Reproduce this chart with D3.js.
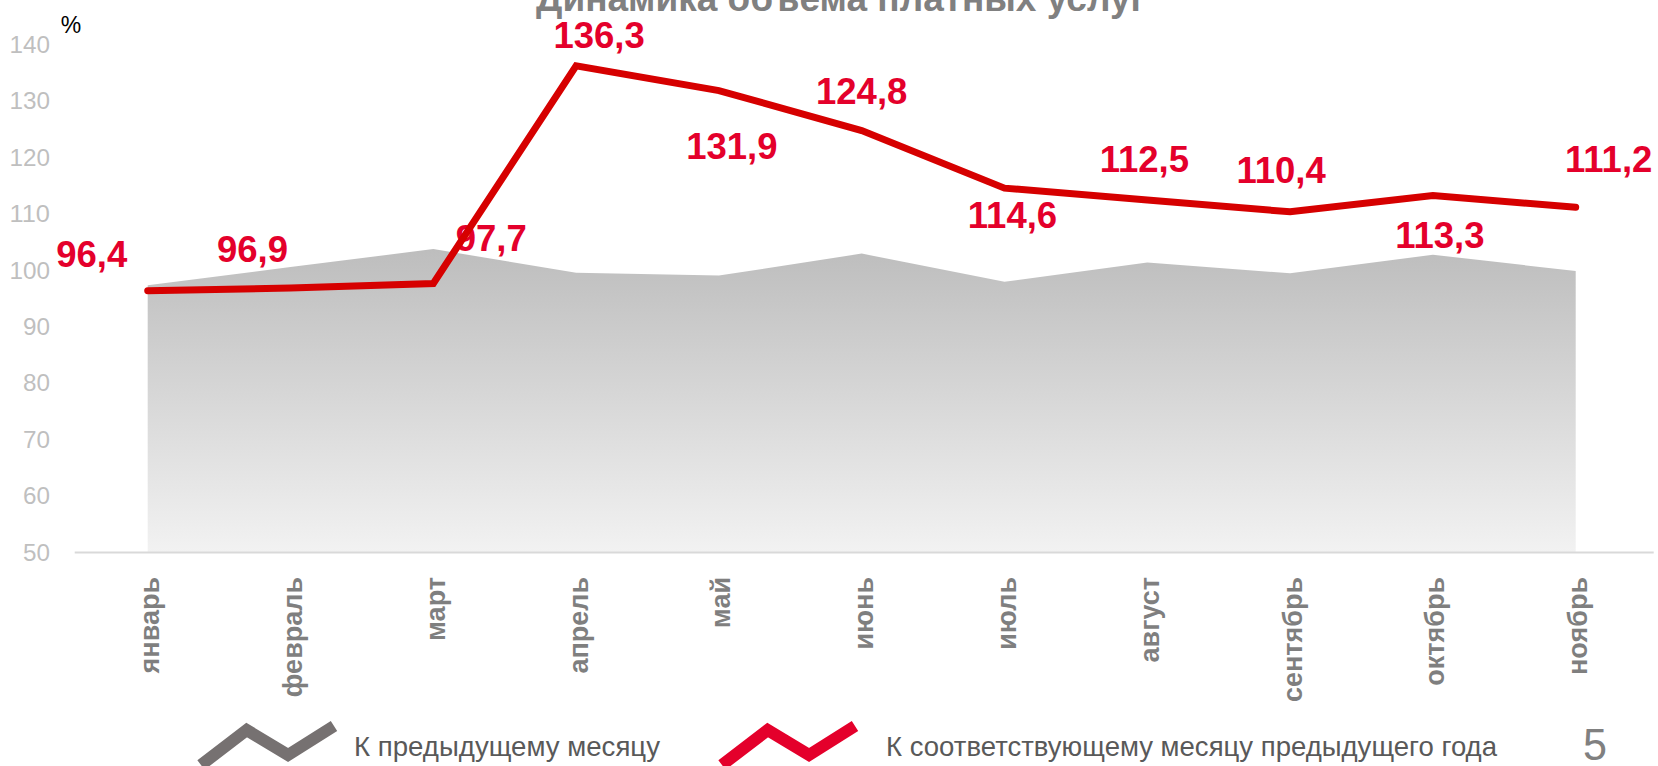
<!DOCTYPE html>
<html>
<head>
<meta charset="utf-8">
<script src="https://cdn.jsdelivr.net/npm/d3@7"></script>
<style>
  html, body { margin: 0; padding: 0; background: #fff; }
  svg { display: block; font-family: 'Liberation Sans', Arial, sans-serif; }
</style>
</head>
<body>
<div id="chart"></div>
<script>
const months = ['январь', 'февраль', 'март', 'апрель', 'май', 'июнь', 'июль', 'август', 'сентябрь', 'октябрь', 'ноябрь']
// к предыдущему месяцу (серая область)
const prevMonth = [97.4, 100.6, 103.8, 99.6, 99.1, 103.0, 98.0, 101.4, 99.5, 102.8, 99.9]
// к соответствующему месяцу предыдущего года (красная линия)
const prevYear = [96.4, 96.9, 97.7, 136.3, 131.9, 124.8, 114.6, 112.5, 110.4, 113.3, 111.2]
const yTicks = [50, 60, 70, 80, 90, 100, 110, 120, 130, 140]
const legendLabels = ['К предыдущему месяцу', 'К соответствующему месяцу предыдущего года']

// hand placed label offsets, like in the original slide
const labelOffsets = [[-56, -24], [-38, -26], [58, -32], [23, -18], [13, 68], [0, -27], [8, 40], [-3, -28], [-9, -29], [7, 53], [33, -35]]

const width = 1658
const height = 766

const svg = d3.select('#chart').append('svg')
  .attr('width', width)
  .attr('height', height)

const x = d3.scalePoint()
  .domain(months)
  .range([147.7, 1575.7])

const y = d3.scaleLinear()
  .domain([50, 140])
  .range([552.5, 44.9])

const defs = svg.append('defs')
const grad = defs.append('linearGradient')
  .attr('id', 'grayFill')
  .attr('gradientUnits', 'userSpaceOnUse')
  .attr('x1', 0).attr('x2', 0)
  .attr('y1', y(104)).attr('y2', y(50))
grad.append('stop').attr('offset', 0).attr('stop-color', '#bdbdbd')
grad.append('stop').attr('offset', 1).attr('stop-color', '#f2f2f2')

// title, cut by the top edge
svg.append('text')
  .attr('x', 841)
  .attr('y', 11)
  .attr('text-anchor', 'middle')
  .attr('font-size', 37)
  .attr('font-weight', 'bold')
  .attr('fill', '#808080')
  .text('Динамика объема платных услуг')

// y axis labels
svg.append('g')
  .selectAll('text')
  .data(yTicks)
  .join('text')
  .attr('x', 50)
  .attr('y', d => y(d))
  .attr('dy', '0.35em')
  .attr('text-anchor', 'end')
  .attr('font-size', 23)
  .attr('fill', '#bfbfbf')
  .attr('textLength', d => String(d).length * 13.5)
  .attr('lengthAdjust', 'spacingAndGlyphs')
  .text(d => d)

svg.append('text')
  .attr('x', 71)
  .attr('y', 33)
  .attr('text-anchor', 'middle')
  .attr('font-size', 23)
  .attr('fill', '#000')
  .text('%')

// gray area
const area = d3.area()
  .x((d, i) => x(months[i]))
  .y0(y(50))
  .y1(d => y(d))

svg.append('path')
  .datum(prevMonth)
  .attr('d', area)
  .attr('fill', 'url(#grayFill)')

// x axis line
svg.append('line')
  .attr('x1', x.range()[0] - 73)
  .attr('x2', x.range()[1] + 78)
  .attr('y1', y(50))
  .attr('y2', y(50))
  .attr('stroke', '#d9d9d9')
  .attr('stroke-width', 2)

// month labels
svg.append('g')
  .selectAll('text')
  .data(months)
  .join('text')
  .attr('transform', d => `translate(${x(d) + 2},577) rotate(-90)`)
  .attr('dy', '0.35em')
  .attr('text-anchor', 'end')
  .attr('font-size', 27)
  .attr('font-weight', 'bold')
  .attr('fill', '#7f7f7f')
  .text(d => d)

// value labels
svg.append('g')
  .selectAll('text')
  .data(prevYear)
  .join('text')
  .attr('x', (d, i) => x(months[i]) + labelOffsets[i][0])
  .attr('y', (d, i) => y(d) + labelOffsets[i][1])
  .attr('text-anchor', 'middle')
  .attr('font-size', 36.5)
  .attr('font-weight', 'bold')
  .attr('fill', '#e4002b')
  .text(d => d3.format('.1f')(d).replace('.', ','))

// red line
const line = d3.line()
  .x((d, i) => x(months[i]))
  .y(d => y(d))

svg.append('path')
  .datum(prevYear)
  .attr('d', line)
  .attr('fill', 'none')
  .attr('stroke', '#d60000')
  .attr('stroke-width', 7)
  .attr('stroke-linecap', 'round')
  .attr('stroke-linejoin', 'miter')

// legend
const zigzag = [[201, 765], [246.7, 730], [288, 755], [334, 726]]
const legendColors = ['#767171', '#e4002b']
const legendX = [0, 521]
const legendTextX = [354, 886]
const legendTextLen = [306, 611]

legendLabels.forEach((label, i) => {
  svg.append('path')
    .attr('d', d3.line()(zigzag.map(p => [p[0] + legendX[i], p[1]])))
    .attr('fill', 'none')
    .attr('stroke', legendColors[i])
    .attr('stroke-width', 12)
    .attr('stroke-linejoin', 'miter')

  svg.append('text')
    .attr('x', legendTextX[i])
    .attr('y', 756)
    .attr('font-size', 28)
    .attr('fill', '#595959')
    .attr('textLength', legendTextLen[i])
    .attr('lengthAdjust', 'spacingAndGlyphs')
    .text(label)
})

// slide number
svg.append('text')
  .attr('x', 1595)
  .attr('y', 760)
  .attr('text-anchor', 'middle')
  .attr('font-size', 44)
  .attr('fill', '#808080')
  .attr('textLength', 24)
  .attr('lengthAdjust', 'spacingAndGlyphs')
  .text('5')
</script>
</body>
</html>
